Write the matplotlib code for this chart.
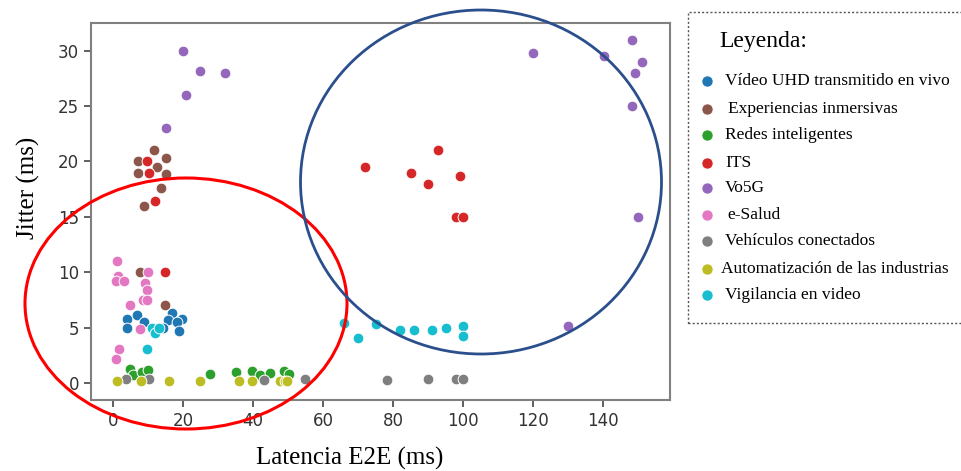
import matplotlib.pyplot as plt
from matplotlib.patches import Ellipse, Rectangle
from matplotlib.lines import Line2D

# Datos: (latencia E2E, jitter) por servicio
categorias = ["Vídeo UHD transmitido en vivo", "Experiencias inmersivas", "Redes inteligentes",
              "ITS", "Vo5G", "e-Salud", "Vehículos conectados",
              "Automatización de las industrias", "Vigilancia en video"]
colores = ["#1f77b4", "#8c564b", "#2ca02c", "#d62728", "#9467bd",
           "#e377c2", "#7f7f7f", "#bcbd22", "#17becf"]

uhd_x = [4.1, 4.1, 6.8, 8.9, 16.8, 19.8, 15.8, 18.2, 18.9, 14.2]
uhd_y = [5.8, 5.0, 6.1, 5.5, 6.3, 5.8, 5.7, 5.5, 4.7, 5.0]

inm_x = [11.8, 7.0, 15.0, 7.2, 15.1, 13.7, 8.9, 12.5, 7.6, 14.8]
inm_y = [21.0, 20.0, 20.3, 19.0, 18.9, 17.6, 16.0, 19.5, 10.0, 7.0]

redes_x = [4.7, 5.8, 8.2, 10.1, 27.8, 35.0, 39.8, 42.0, 44.9, 48.9, 50.3]
redes_y = [1.3, 0.7, 1.0, 1.2, 0.8, 1.0, 1.1, 0.7, 0.9, 1.1, 0.8]

its_x = [72.0, 92.9, 85.0, 90.0, 99.1, 98.0, 100.0, 9.8, 10.3, 12.0, 14.8]
its_y = [19.5, 21.0, 19.0, 18.0, 18.7, 15.0, 15.0, 20.0, 19.0, 16.4, 10.0]

vo5g_x = [19.9, 24.9, 31.9, 20.9, 15.0, 120.1, 140.3, 148.2, 151.1, 149.1, 148.2, 150.1, 130.1]
vo5g_y = [30.0, 28.2, 28.0, 26.0, 23.0, 29.8, 29.5, 31.0, 29.0, 28.0, 25.0, 15.0, 5.1]

salud_x = [1.0, 1.5, 0.8, 3.2, 10.1, 9.1, 9.8, 8.5, 9.8, 4.9, 7.7, 1.8, 0.9]
salud_y = [11.0, 9.7, 9.2, 9.2, 10.0, 9.0, 8.4, 7.5, 7.5, 7.0, 4.9, 3.1, 2.2]

veh_x = [3.6, 10.2, 43.0, 54.9, 78.2, 89.9, 97.9, 100.1]
veh_y = [0.4, 0.4, 0.3, 0.4, 0.3, 0.4, 0.4, 0.4]

auto_x = [1.2, 7.9, 15.9, 24.9, 36.0, 39.8, 47.7, 49.0, 49.7]
auto_y = [0.2, 0.2, 0.2, 0.2, 0.2, 0.2, 0.2, 0.2, 0.2]

vig_x = [11.0, 12.0, 13.2, 9.8, 66.0, 70.1, 75.0, 82.0, 86.0, 91.0, 95.0, 100.1, 100.1]
vig_y = [5.0, 4.5, 5.0, 3.1, 5.4, 4.1, 5.3, 4.8, 4.8, 4.8, 5.0, 5.1, 4.2]

series = [(uhd_x, uhd_y), (inm_x, inm_y), (redes_x, redes_y), (its_x, its_y),
          (vo5g_x, vo5g_y), (salud_x, salud_y), (veh_x, veh_y),
          (auto_x, auto_y), (vig_x, vig_y)]

W, H = 962, 471
fig = plt.figure(figsize=(W / 100, H / 100), dpi=100)
ax = fig.add_axes([91 / W, 1 - 400 / H, (670 - 91) / W, (400 - 23) / H])

for (xs, ys), c in zip(series, colores):
    ax.scatter(xs, ys, s=60, color=c, edgecolor="white", linewidth=0.7, zorder=3)

ax.set_xlim(-6.3, 159.1)
ax.set_ylim(-1.54, 32.5)
ax.set_xticks([0, 20, 40, 60, 80, 100, 120, 140])
ax.set_yticks([0, 5, 10, 15, 20, 25, 30])
ax.tick_params(labelsize=12, colors="#444444", length=5, width=1.2, labelcolor="#333333")
for sp in ax.spines.values():
    sp.set_color("#808080")
    sp.set_linewidth(1.5)

serif = "Liberation Serif"
# etiquetas de ejes (desplazadas como en la imagen original)
fig.text(350 / W, 1 - 458 / H, "Latencia E2E (ms)", fontsize=18, family=serif,
         ha="center", va="center")
fig.text(28 / W, 1 - 188 / H, "Jitter (ms)", fontsize=18, family=serif,
         ha="center", va="center", rotation=90)

# Elipses resaltando los grupos
fig.add_artist(Ellipse((186 / W, 1 - 303.5 / H), 322 / W, 251 / H, transform=fig.transFigure,
                       fill=False, edgecolor="#ff0000", linewidth=2.2, zorder=10))
fig.add_artist(Ellipse((481 / W, 1 - 182 / H), 361 / W, 344 / H, transform=fig.transFigure,
                       fill=False, edgecolor="#2b4f8c", linewidth=2.0, zorder=10))

# Leyenda manual con borde punteado
fig.add_artist(Rectangle((688 / W, 1 - 323 / H), 300 / W, 311 / H, transform=fig.transFigure,
                         fill=False, edgecolor="#555555", linewidth=1.0, linestyle=(0, (1.5, 1.5))))
fig.text(719 / W, 1 - 42 / H, "Leyenda:", fontsize=17, family=serif, va="center", ha="left")
filas = [81, 109, 135, 163, 188, 215, 241, 269, 295]
sangria = [725, 728, 725, 725, 725, 727, 725, 721, 725]
for nombre, c, yy, xx in zip(categorias, colores, filas, sangria):
    fig.add_artist(Line2D([707 / W], [1 - yy / H], marker="o", markersize=8, color=c,
                          markeredgecolor="white", markeredgewidth=0.5, transform=fig.transFigure))
    fig.text(xx / W, 1 - yy / H, nombre, fontsize=12.5, family=serif, va="center", ha="left")

fig.savefig("out.png", dpi=100)
